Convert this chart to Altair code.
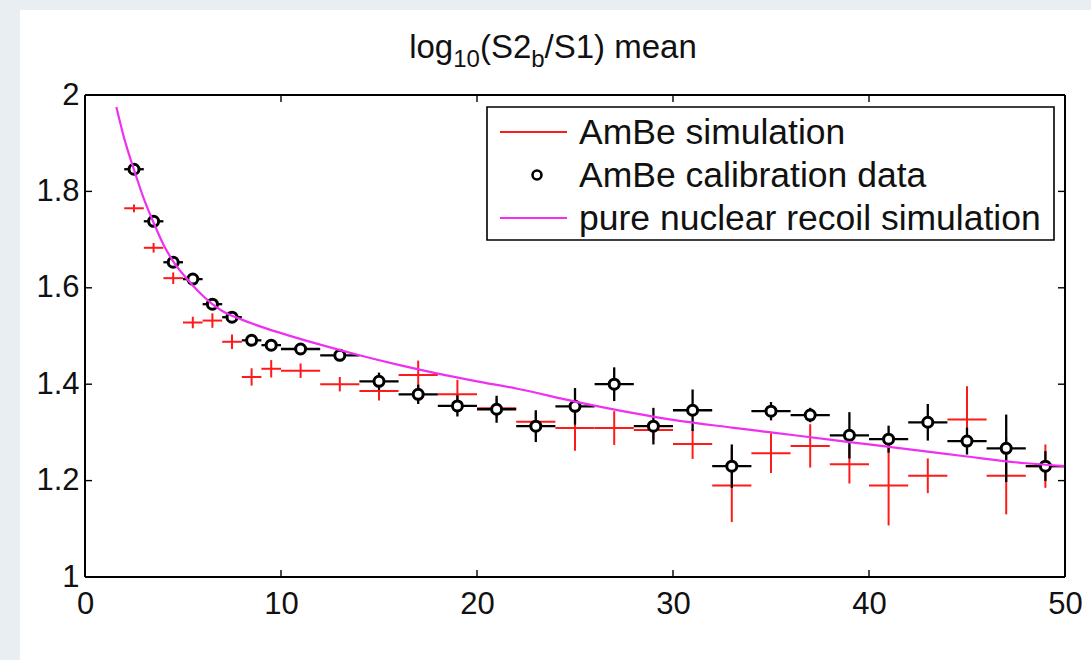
import altair as alt
import pandas as pd

# ---------------- data ----------------
x_centers = [2.5, 3.5, 4.5, 5.5, 6.5, 7.5, 8.5, 9.5, 11, 13, 15, 17, 19, 21,
             23, 25, 27, 29, 31, 33, 35, 37, 39, 41, 43, 45, 47, 49]
x_halfwidth = [0.5] * 8 + [1] * 20

data_mean = [1.846, 1.738, 1.653, 1.618, 1.566, 1.539, 1.491, 1.481, 1.473, 1.460,
             1.406, 1.379, 1.355, 1.348, 1.313, 1.354, 1.400, 1.313, 1.346, 1.230,
             1.344, 1.336, 1.294, 1.286, 1.321, 1.282, 1.267, 1.230]
data_err = [0.006, 0.008, 0.008, 0.008, 0.010, 0.010, 0.012, 0.010, 0.012, 0.012,
            0.018, 0.020, 0.022, 0.028, 0.033, 0.038, 0.035, 0.038, 0.043, 0.045,
            0.019, 0.015, 0.048, 0.028, 0.038, 0.028, 0.070, 0.031]

sim_mean = [1.765, 1.683, 1.620, 1.528, 1.532, 1.488, 1.415, 1.432, 1.428, 1.400,
            1.386, 1.419, 1.379, 1.350, 1.322, 1.309, 1.309, 1.305, 1.276, 1.190,
            1.257, 1.272, 1.234, 1.190, 1.210, 1.327, 1.210, 1.230]
sim_err = [0.008, 0.010, 0.012, 0.012, 0.015, 0.015, 0.018, 0.018, 0.015, 0.015,
           0.020, 0.030, 0.030, 0.020, 0.020, 0.047, 0.035, 0.020, 0.031, 0.076,
           0.041, 0.045, 0.040, 0.083, 0.036, 0.069, 0.080, 0.045]

nr_x = [1.6, 2, 2.5, 3, 3.5, 4, 4.5, 5, 5.5, 6, 6.5, 7, 8, 9, 10, 12, 14, 16, 18,
        20, 22, 25, 28, 30, 33, 35, 38, 40, 43, 45, 48, 50]
nr_y = [1.975, 1.910, 1.845, 1.785, 1.735, 1.690, 1.655, 1.628, 1.605, 1.584,
        1.566, 1.552, 1.534, 1.519, 1.506, 1.482, 1.460, 1.440, 1.422, 1.406,
        1.391, 1.364, 1.340, 1.326, 1.310, 1.300, 1.285, 1.275, 1.260, 1.250,
        1.236, 1.230]

x_ticks = [0, 10, 20, 30, 40, 50]
y_ticks = [1, 1.2, 1.4, 1.6, 1.8, 2]
legend_labels = ["AmBe simulation", "AmBe calibration data",
                 "pure nuclear recoil simulation"]
title_parts = [("log", False), ("10", True), ("(S2", False), ("b", True),
               ("/S1) mean", False)]

# ---------------- layout / style ----------------
W, H = 980, 482
FONT = "Liberation Sans"
TICK_FS = 31
LEG_FS = 35.5
TITLE_FS = 33
SUB_FS = 24
RED = "#ff1a1a"
MAG = "#f030f0"
STRIP = "#e9eef3"

xs = alt.Scale(domain=[0, 50], nice=False, zero=False)
ys = alt.Scale(domain=[1, 2], nice=False, zero=False)

rows = []
for i, xc in enumerate(x_centers):
    rows.append(dict(x=xc, xlo=xc - x_halfwidth[i], xhi=xc + x_halfwidth[i],
                     d=data_mean[i], dlo=data_mean[i] - data_err[i], dhi=data_mean[i] + data_err[i],
                     s=sim_mean[i], slo=sim_mean[i] - sim_err[i], shi=sim_mean[i] + sim_err[i]))
df = pd.DataFrame(rows)
nr_df = pd.DataFrame({"x": nr_x, "y": nr_y})


def one(tag):
    return pd.DataFrame({"k": [tag]})


# slide background strips (left and top); the figure itself is white
strip_left = alt.Chart(one("sl")).mark_rect(fill=STRIP, stroke=None).encode(
    x=alt.value(-85), x2=alt.value(-65), y=alt.value(-95), y2=alt.value(H + 83))
strip_top = alt.Chart(one("st")).mark_rect(fill=STRIP, stroke=None).encode(
    x=alt.value(-85), x2=alt.value(W + 26), y=alt.value(-95), y2=alt.value(-85))

# axes (labels only)
axes_layer = alt.Chart(pd.DataFrame({"x": [0, 50], "y": [1, 2]})).mark_point(opacity=0).encode(
    x=alt.X("x:Q", scale=xs, axis=alt.Axis(values=x_ticks, format="d", title=None)),
    y=alt.Y("y:Q", scale=ys, axis=alt.Axis(values=y_ticks, format="~g", title=None)))

# simulation error crosses
sim_v = alt.Chart(df).mark_rule(color=RED, strokeWidth=2).encode(
    x=alt.X("x:Q", scale=xs), y=alt.Y("slo:Q", scale=ys), y2="shi:Q")
sim_h = alt.Chart(df).mark_rule(color=RED, strokeWidth=2).encode(
    x=alt.X("xlo:Q", scale=xs), x2="xhi:Q", y=alt.Y("s:Q", scale=ys))

# calibration data
dat_v = alt.Chart(df).mark_rule(color="black", strokeWidth=2.3).encode(
    x=alt.X("x:Q", scale=xs), y=alt.Y("dlo:Q", scale=ys), y2="dhi:Q")
dat_h = alt.Chart(df).mark_rule(color="black", strokeWidth=2.3).encode(
    x=alt.X("xlo:Q", scale=xs), x2="xhi:Q", y=alt.Y("d:Q", scale=ys))
dat_p = alt.Chart(df).mark_point(shape="circle", filled=False, fill="white", fillOpacity=1,
                                 color="black", strokeWidth=3, size=100, opacity=1).encode(
    x=alt.X("x:Q", scale=xs), y=alt.Y("d:Q", scale=ys))

# pure nuclear recoil simulation
nr_line = alt.Chart(nr_df).mark_line(color=MAG, strokeWidth=2.2, interpolate="monotone").encode(
    x=alt.X("x:Q", scale=xs), y=alt.Y("y:Q", scale=ys))

# inward ticks (box on)
xt = pd.DataFrame({"v": x_ticks})
yt = pd.DataFrame({"v": y_ticks})
TL = 7
tick_b = alt.Chart(xt).mark_rule(color="black", strokeWidth=1.4).encode(
    x=alt.X("v:Q", scale=xs), y=alt.value(H), y2=alt.value(H - TL))
tick_t = alt.Chart(xt).mark_rule(color="black", strokeWidth=1.4).encode(
    x=alt.X("v:Q", scale=xs), y=alt.value(0), y2=alt.value(TL))
tick_l = alt.Chart(yt).mark_rule(color="black", strokeWidth=1.4).encode(
    y=alt.Y("v:Q", scale=ys), x=alt.value(0), x2=alt.value(TL))
tick_r = alt.Chart(yt).mark_rule(color="black", strokeWidth=1.4).encode(
    y=alt.Y("v:Q", scale=ys), x=alt.value(W), x2=alt.value(W - TL))

# axes box
frame_edges = [
    alt.Chart(one("f1")).mark_rule(color="black", strokeWidth=2).encode(
        x=alt.value(0), x2=alt.value(W), y=alt.value(0)),
    alt.Chart(one("f2")).mark_rule(color="black", strokeWidth=2).encode(
        x=alt.value(0), x2=alt.value(W), y=alt.value(H)),
    alt.Chart(one("f3")).mark_rule(color="black", strokeWidth=2).encode(
        x=alt.value(0), y=alt.value(0), y2=alt.value(H)),
    alt.Chart(one("f4")).mark_rule(color="black", strokeWidth=2).encode(
        x=alt.value(W), y=alt.value(0), y2=alt.value(H)),
]

# legend box
LX0, LX1, LY0, LY1 = 402, 969, 12, 145
leg_box = alt.Chart(one("lb")).mark_rect(fill="white", stroke="black", strokeWidth=1.6).encode(
    x=alt.value(LX0), x2=alt.value(LX1), y=alt.value(LY0), y2=alt.value(LY1))
row_y = [37, 80, 123]
leg_red = alt.Chart(one("lr")).mark_rule(color=RED, strokeWidth=2).encode(
    x=alt.value(415), x2=alt.value(482), y=alt.value(row_y[0]))
leg_pt = alt.Chart(one("lp")).mark_point(shape="circle", filled=False, fill="white", fillOpacity=1,
                                         color="black", strokeWidth=2.6, size=80).encode(
    x=alt.value(452), y=alt.value(row_y[1]))
leg_mag = alt.Chart(one("lm")).mark_rule(color=MAG, strokeWidth=2.2).encode(
    x=alt.value(415), x2=alt.value(482), y=alt.value(row_y[2]))
leg_txt = [alt.Chart(one("lt%d" % i)).mark_text(align="left", baseline="middle", font=FONT,
                                                fontSize=LEG_FS, color="#111111", dy=1).encode(
    x=alt.value(494), y=alt.value(row_y[i]), text=alt.value(lbl))
    for i, lbl in enumerate(legend_labels)]

# title with subscripts (Arial/Liberation Sans advance widths in em)
adv = {"l": .222, "o": .556, "g": .556, "1": .556, "0": .556, "(": .333, "S": .667,
       "2": .556, "b": .556, "/": .278, ")": .333, " ": .278, "m": .833, "e": .556,
       "a": .556, "n": .556}
widths = [sum(adv.get(c, .556) for c in t) * (SUB_FS if sub else TITLE_FS)
          for t, sub in title_parts]
cx = W / 2 - 22
x0 = cx - sum(widths) / 2
TITLE_BASE = -37
title_layers = []
for j, ((t, sub), w) in enumerate(zip(title_parts, widths)):
    title_layers.append(alt.Chart(one("tt%d" % j)).mark_text(
        align="left", baseline="alphabetic", font=FONT,
        fontSize=SUB_FS if sub else TITLE_FS, color="#111111").encode(
        x=alt.value(x0), y=alt.value(TITLE_BASE + (9 if sub else 0)), text=alt.value(t)))
    x0 += w

chart = alt.layer(
    strip_left, strip_top, axes_layer, sim_v, sim_h, dat_v, dat_h, dat_p, nr_line,
    tick_b, tick_t, tick_l, tick_r, *frame_edges,
    leg_box, leg_red, leg_pt, leg_mag, *leg_txt, *title_layers
).properties(
    width=W, height=H,
    autosize=alt.AutoSizeParams(type="none"),
    padding={"left": 85, "top": 95, "right": 26, "bottom": 83},
    background="white",
).configure_view(stroke=None).configure_axis(
    ticks=False, domain=False, grid=False, labelFont=FONT, labelFontSize=TICK_FS,
    labelColor="#111111", title=None, labelFlush=False
).configure_axisX(labelPadding=12).configure_axisY(labelPadding=6)

chart.save("out.html", embed_options={"renderer": "svg", "actions": False})
